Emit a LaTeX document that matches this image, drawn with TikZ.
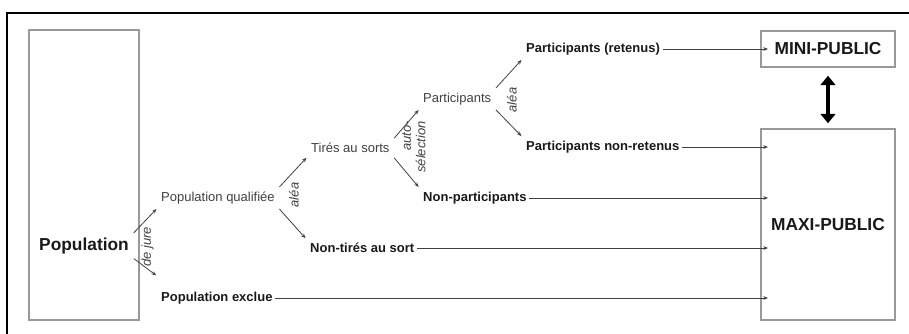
\documentclass[tikz,border=0pt]{standalone}
\usepackage{fontspec}
\setmainfont{Liberation Sans}
\usetikzlibrary{arrows.meta,positioning,calc}

\begin{document}
\begin{tikzpicture}[x=0.75pt,y=-0.75pt,
  txt/.style={font=\fontsize{9.75}{11}\selectfont,text=black!75,inner sep=2pt,anchor=west},
  bld/.style={txt,font=\fontsize{9.75}{11}\selectfont\bfseries,text=black!90},
  lab/.style={font=\fontsize{9.75}{11}\selectfont\itshape,text=black!75,rotate=90,inner sep=0pt},
  bigtxt/.style={font=\fontsize{13}{15}\selectfont\bfseries,text=black!90,inner sep=2pt},
  box/.style={draw=black!40,line width=1.1pt},
  link/.style={draw=black!75,line width=0.6pt,-{Stealth[length=3.5pt,width=2.8pt]}},
  branch/.style={link,shorten >=2pt,shorten <=2pt},
  dbl/.style={line width=3.6pt,{Triangle[length=7pt,width=11pt]}-{Triangle[length=7pt,width=11pt]},
    shorten <=6pt,shorten >=3.75pt}]
\path[use as bounding box] (0,0) rectangle (909,334);
% cadre
\draw[line width=1.1pt] (7,334) -- (7,13) -- (909,13);

% boites
\node[box,minimum width=82.5pt,minimum height=217.5pt] (popbox) at (84,175) {};
\node[bigtxt] (pop) at (84,246) {Population};
\node[box,bigtxt,minimum width=100.5pt,minimum height=27pt] (mini) at (828,49) {MINI-PUBLIC};
\node[box,bigtxt,minimum width=100.5pt,minimum height=143.25pt] (maxi) at (828,224.5) {MAXI-PUBLIC};
\coordinate (mxin) at (768,0);
\coordinate (mnin) at (768,49);

% branches
\node[txt] (qual) at (158.3,198) {Population qualifiée};
\node[bld] (excl) at (158.3,298) {Population exclue};
\node[txt] (tires) at (308.3,148) {Tirés au sorts};
\node[bld] (ntires) at (307.3,248) {Non-tirés au sort};
\node[txt] (part) at (420.3,99) {Participants};
\node[bld] (npart) at (420.3,198) {Non-participants};
\node[bld] (pret) at (523.3,49) {Participants (retenus)};
\node[bld] (pnr) at (523.3,147) {Participants non-retenus};

\draw[branch] (pop.north east) -- (qual.south west);
\draw[branch] (pop.south east) -- ([yshift=9pt]excl.north west);
\draw[branch] (qual.north east) -- (tires.south west);
\draw[branch] (qual.south east) -- (ntires.north west);
\draw[branch] (tires.north east) -- (part.south west);
\draw[branch] (tires.south east) -- (npart.north west);
\draw[branch] (part.north east) -- (pret.south west);
\draw[branch] (part.south east) -- (pnr.north west);

% etiquettes
\node[lab] (dejure) at (147.5,247) {de jure};
\node[lab] (alea1) at (294,195) {aléa};
\node[lab,align=right] (autosel) at (414,147) {auto-\\sélection};
\node[lab] (alea2) at (512,100) {aléa};

% vers les publics
\draw[link] (pret.east) -- (mnin);
\foreach \n in {pnr,npart,ntires,excl}
  \draw[link] (\n.east) -- (\n.east -| mxin);
\draw[dbl] (mini.south) -- (maxi.north);
\end{tikzpicture}
\end{document}
